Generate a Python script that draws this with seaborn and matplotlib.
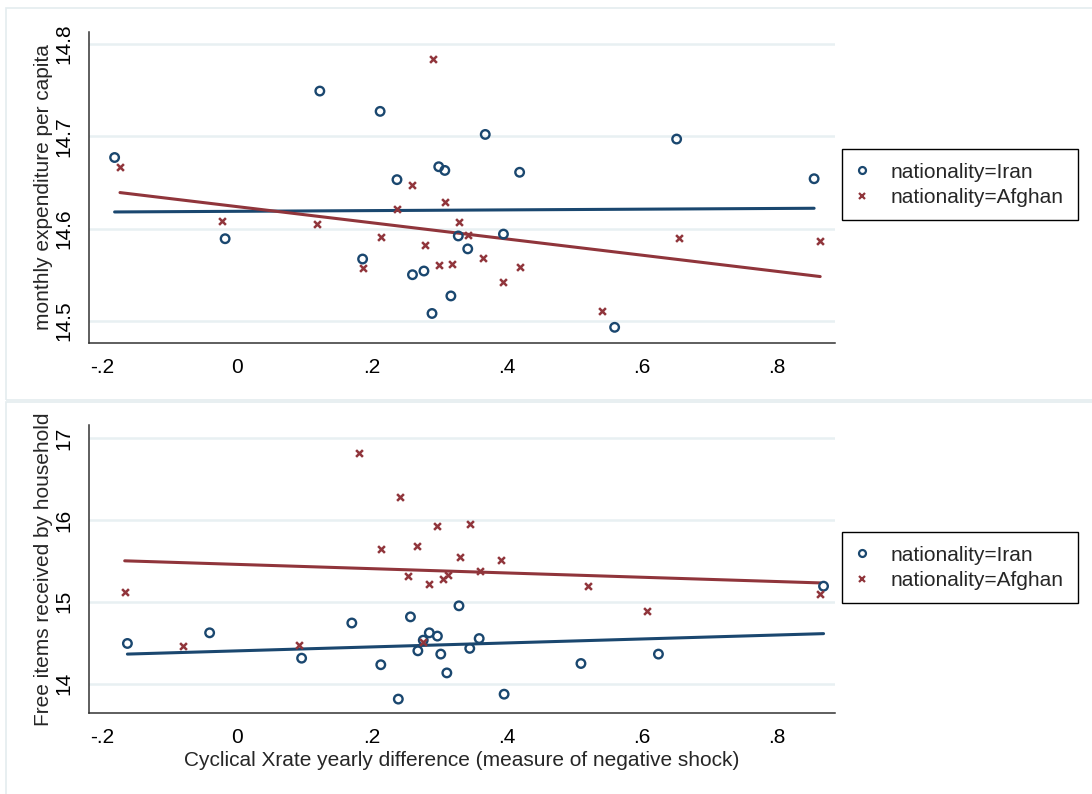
import matplotlib
matplotlib.use("Agg")

import matplotlib.pyplot as plt
import seaborn as sns
from matplotlib.lines import Line2D
from matplotlib.patches import Rectangle


NAVY = "#1a476f"
MAROON = "#90353b"
GRID = "#e8f0f2"

# top panel: monthly expenditure per capita
top_iran_x = [-0.182, 0.1225, 0.212, -0.018, 0.237, 0.299, 0.308, 0.186, 0.260, 0.277,
              0.317, 0.289, 0.328, 0.368, 0.652, 0.419, 0.856, 0.342, 0.395, 0.560]
top_iran_y = [14.677, 14.749, 14.727, 14.589, 14.653, 14.667, 14.663, 14.567, 14.550, 14.554,
              14.527, 14.508, 14.592, 14.702, 14.697, 14.661, 14.654, 14.578, 14.594, 14.493]
top_afghan_x = [-0.174, -0.022, 0.119, 0.290, 0.259, 0.237, 0.309, 0.213, 0.278, 0.187,
                0.299, 0.319, 0.329, 0.342, 0.365, 0.420, 0.394, 0.541, 0.655, 0.865]
top_afghan_y = [14.667, 14.608, 14.605, 14.784, 14.647, 14.621, 14.629, 14.591, 14.582, 14.557,
                14.561, 14.562, 14.607, 14.593, 14.568, 14.558, 14.542, 14.511, 14.590, 14.587]

# fitted lines as shown in the original (lfit endpoints)
top_iran_fit_x = [-0.182, 0.856]
top_iran_fit_y = [14.618, 14.622]
top_afghan_fit_x = [-0.174, 0.865]
top_afghan_fit_y = [14.639, 14.548]

# bottom panel: free items received by household
bot_iran_x = [-0.163, -0.041, 0.0955, 0.170, 0.213, 0.239, 0.257, 0.268, 0.276, 0.285,
              0.297, 0.302, 0.311, 0.329, 0.345, 0.359, 0.396, 0.510, 0.625, 0.870]
bot_iran_y = [14.49, 14.62, 14.31, 14.74, 14.23, 13.81, 14.815, 14.40, 14.53, 14.62,
              14.58, 14.36, 14.13, 14.95, 14.43, 14.55, 13.87, 14.245, 14.36, 15.19]
bot_afghan_x = [0.180, 0.242, 0.297, 0.213, 0.267, 0.331, 0.254, 0.285, 0.306, 0.313,
                -0.167, -0.080, 0.0915, 0.276, 0.346, 0.392, 0.360, 0.521, 0.608, 0.865]
bot_afghan_y = [16.82, 16.28, 15.93, 15.65, 15.68, 15.55, 15.32, 15.22, 15.28, 15.33,
                15.125, 14.465, 14.477, 14.51, 15.95, 15.51, 15.37, 15.19, 14.89, 15.10]

bot_iran_fit_x = [-0.163, 0.870]
bot_iran_fit_y = [14.36, 14.61]
bot_afghan_fit_x = [-0.167, 0.865]
bot_afghan_fit_y = [15.50, 15.23]

x_ticks = [-0.2, 0, 0.2, 0.4, 0.6, 0.8]
x_tick_labels = ["-.2", "0", ".2", ".4", ".6", ".8"]
top_y_ticks = [14.5, 14.6, 14.7, 14.8]
bot_y_ticks = [14, 15, 16, 17]

legend_labels = ["nationality=Iran", "nationality=Afghan"]

FS = 15


def draw_panel(ax, pts, fits, y_ticks, ylim, ylabel, xlabel=None):
    (ix, iy), (ax_, ay) = pts
    (ifx, ify), (afx, afy) = fits

    sns.lineplot(x=ifx, y=ify, ax=ax, color=NAVY, linewidth=2.2)
    sns.lineplot(x=afx, y=afy, ax=ax, color=MAROON, linewidth=2.2)

    sns.scatterplot(x=ix, y=iy, ax=ax, marker="o", s=38,
                    color=NAVY, linewidth=1.7, zorder=4)
    ax.collections[-1].set_facecolor("none")
    ax.collections[-1].set_edgecolor(NAVY)
    sns.scatterplot(x=ax_, y=ay, ax=ax, marker="x", s=24,
                    color=MAROON, linewidth=1.8, zorder=4)
    ax.collections[-1].set_edgecolor(MAROON)

    ax.set_xlim(-0.22, 0.887)
    ax.set_ylim(*ylim)
    ax.set_xticks(x_ticks)
    ax.set_xticklabels(x_tick_labels)
    ax.set_yticks(y_ticks)
    ax.set_yticklabels([f"{t:g}" for t in y_ticks], rotation=90, va="center")
    ax.grid(False)
    for t in y_ticks:
        ax.axhline(t, color=GRID, linewidth=1.8, zorder=0)

    for side in ["top", "right"]:
        ax.spines[side].set_visible(False)
    for side in ["left", "bottom"]:
        ax.spines[side].set_color("#333333")
        ax.spines[side].set_linewidth(1.1)
    ax.tick_params(axis="both", direction="out", length=7, width=1.1,
                   color="#444444", labelsize=FS, labelcolor="black", pad=4)
    ax.set_ylabel(ylabel, fontsize=FS, labelpad=1)
    ax.set_xlabel(xlabel if xlabel else "", fontsize=FS, labelpad=3)
    ax.set_facecolor("white")


sns.set_theme(style="white")
plt.rcParams["font.family"] = ["Liberation Sans", "DejaVu Sans"]

fig = plt.figure(figsize=(10.92, 7.94), dpi=100)
fig.patch.set_facecolor("white")

# stata-like panel frames
for y0, y1 in [(8, 400), (402, 800)]:
    fig.patches.append(Rectangle((5.5 / 1092, 1 - y1 / 794), 1.2, (y1 - y0) / 794,
                                 transform=fig.transFigure, fill=False,
                                 edgecolor="#e4ecef", linewidth=1.2))

ax_top = fig.add_axes([89 / 1092, 1 - 343 / 794, (835 - 89) / 1092, (343 - 32) / 794])
ax_bot = fig.add_axes([89 / 1092, 1 - 713 / 794, (835 - 89) / 1092, (713 - 425) / 794])

draw_panel(ax_top,
           [(top_iran_x, top_iran_y), (top_afghan_x, top_afghan_y)],
           [(top_iran_fit_x, top_iran_fit_y), (top_afghan_fit_x, top_afghan_fit_y)],
           top_y_ticks, (14.476, 14.813), "monthly expenditure per capita")
draw_panel(ax_bot,
           [(bot_iran_x, bot_iran_y), (bot_afghan_x, bot_afghan_y)],
           [(bot_iran_fit_x, bot_iran_fit_y), (bot_afghan_fit_x, bot_afghan_fit_y)],
           bot_y_ticks, (13.64, 17.16), "Free items received by household",
           "Cyclical Xrate yearly difference (measure of negative shock)")

handles = [
    Line2D([], [], linestyle="none", marker="o", markersize=5, markerfacecolor="none",
           markeredgecolor=NAVY, markeredgewidth=1.6),
    Line2D([], [], linestyle="none", marker="x", markersize=4, color=MAROON,
           markeredgewidth=1.6),
]
for top_px in [149, 532]:
    fig.legend(handles, legend_labels, loc="upper left",
               bbox_to_anchor=(842 / 1092, 1 - top_px / 794),
               bbox_transform=fig.transFigure, fontsize=FS, frameon=True,
               fancybox=False, edgecolor="black", framealpha=1,
               handlelength=0.6, handletextpad=1.1, borderpad=0.65,
               labelspacing=0.3, borderaxespad=0)

fig.savefig("out.png", dpi=100, facecolor="white")
